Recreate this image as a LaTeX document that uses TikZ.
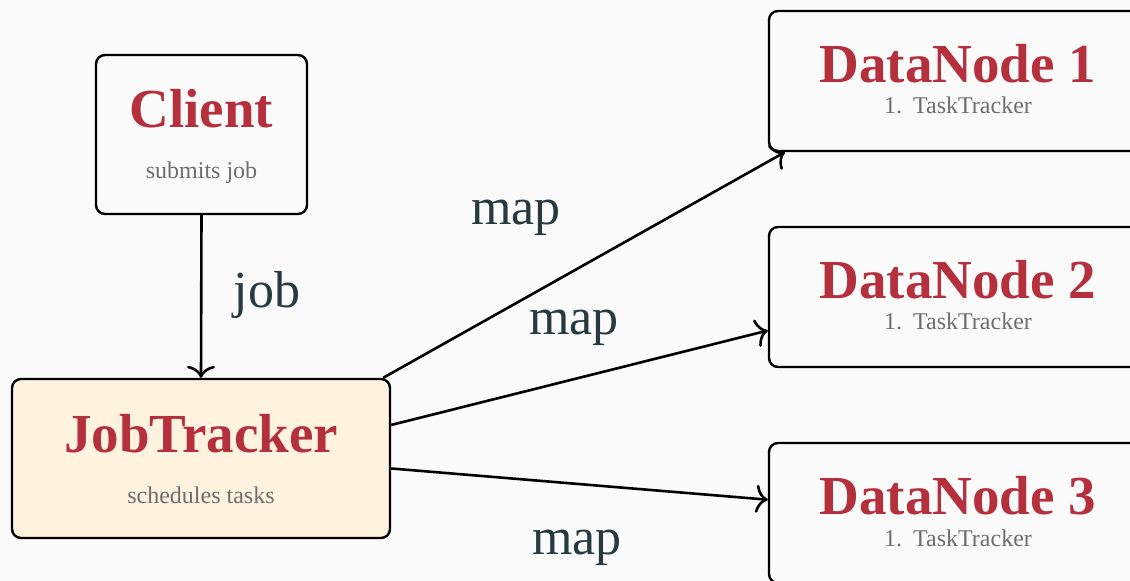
\documentclass[tikz,border=0pt]{standalone}
\usepackage{fontspec}
\setmainfont{Liberation Serif}
\usetikzlibrary{arrows.meta,calc}
\definecolor{bgc}{HTML}{FAFAFA}
\definecolor{jtfill}{HTML}{FFF2DE}
\definecolor{titlered}{HTML}{B5303D}
\definecolor{subgray}{HTML}{6E6E6E}
\definecolor{labelc}{HTML}{263A40}
\tikzset{
  box/.style={draw=black, line width=2.4pt, rounded corners=9pt, inner sep=0pt},
  ttl/.style={anchor=base, text=titlered, font=\fontsize{55}{60}\selectfont\bfseries, inner sep=0pt},
  sub/.style={anchor=base, text=subgray, font=\fontsize{24}{28}\selectfont, inner sep=0pt},
  lbl/.style={anchor=base, text=labelc, font=\fontsize{52}{56}\selectfont, inner sep=0pt},
  conn/.style={draw=black, line width=2.6pt, -{To[length=12pt,width=28pt,line width=2.6pt]}},
}
\begin{document}
\begin{tikzpicture}[x=1pt,y=-1pt]
\fill[bgc] (0,0) rectangle (1130,581);
\useasboundingbox (0,0) rectangle (1130,581);
% boxes
\node[box, fill=bgc, minimum width=211pt, minimum height=159pt] (client) at (201.5,134.5) {};
\node[box, fill=jtfill, minimum width=378pt, minimum height=159pt] (jt) at (201,458.5) {};
\node[box, fill=bgc, minimum width=378pt, minimum height=140pt] (dn1) at (958,81) {};
\node[box, fill=bgc, minimum width=378pt, minimum height=140pt] (dn2) at (958,297) {};
\node[box, fill=bgc, minimum width=378pt, minimum height=140pt] (dn3) at (958,513) {};
% texts
\node[ttl] (clientt) at (201.5,127) {Client};
\node[sub] (clients) at (201.5,178) {submits job};
\node[ttl] (jtt) at (201,452) {JobTracker};
\node[sub] (jts) at (201,503) {schedules tasks};
\node[ttl] (dn1t) at (958,82) {DataNode 1};
\node[sub] (dn1s) at (958,113) {1.\hspace{11pt}TaskTracker};
\node[ttl] (dn2t) at (958,298) {DataNode 2};
\node[sub] (dn2s) at (958,329) {1.\hspace{11pt}TaskTracker};
\node[ttl] (dn3t) at (958,514) {DataNode 3};
\node[sub] (dn3s) at (958,546) {1.\hspace{11pt}TaskTracker};
% connectors
\draw[conn] (client.south) -- (jt.north);
\draw[conn] ($(jt.north east)+(-8,0)$) -- ($(dn1.south west)+(17,0)$);
\draw[conn] (jt.10.9) -- (dn2.190.2);
\draw[conn] (jt.-3.5) -- (dn3.176.7);
% labels
\node[lbl] (ljob) at (267,307) {job};
\node[lbl] (lmap1) at (516,224) {map};
\node[lbl] (lmap2) at (574,334) {map};
\node[lbl] (lmap3) at (577,554) {map};
\end{tikzpicture}
\end{document}
